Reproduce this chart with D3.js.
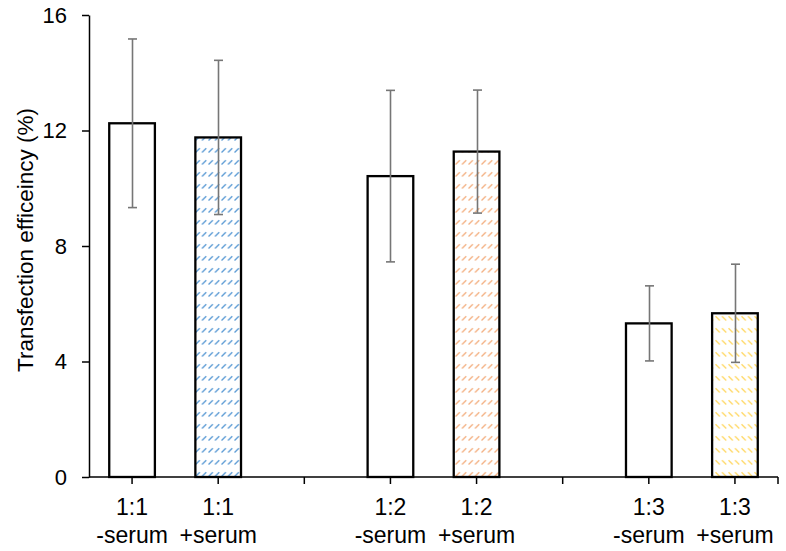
<!DOCTYPE html>
<html>
<head>
<meta charset="utf-8">
<script src="https://cdn.jsdelivr.net/npm/d3@7"></script>
<style>
  html, body { margin: 0; padding: 0; background: #fff; }
  svg { display: block; }
  text { font-family: "Liberation Sans", Arial, sans-serif; fill: #000; }
</style>
</head>
<body>
<script>
// ---- Data ----
const categoryKeys = ["c1", "c2", "g1", "c3", "c4", "g2", "c5", "c6"];
const ratioLabels  = ["1:1", "1:1", "", "1:2", "1:2", "", "1:3", "1:3"];
const serumLabels  = ["-serum", "+serum", "", "-serum", "+serum", "", "-serum", "+serum"];
const values       = [12.25, 11.76, null, 10.42, 11.27, null, 5.32, 5.67];
const errors       = [2.92, 2.67, null, 2.97, 2.13, null, 1.30, 1.70];
const yTicks       = [0, 4, 8, 12, 16];
const yTitle       = "Transfection efficeincy (%)";

// ---- Styles ----
const W = 786, H = 551;
const margin = { left: 89, right: 8, top: 15, bottom: 74 };
const patternStyle = {
  "1:1": { color: "#5B9BD5", dir: "up" },
  "1:2": { color: "#F4B183", dir: "up" },
  "1:3": { color: "#FFD966", dir: "down" }
};

const svg = d3.select("body").append("svg").attr("width", W).attr("height", H);
const defs = svg.append("defs");
Object.entries(patternStyle).forEach(([k, s], i) => {
  const p = defs.append("pattern")
    .attr("id", "pat" + i)
    .attr("patternUnits", "userSpaceOnUse")
    .attr("width", 6.5).attr("height", 12);
  p.append("rect").attr("width", 6.5).attr("height", 12).attr("fill", "#fff");
  const d = s.dir === "up" ? "M0.5,8.5 L4.8,4.2" : "M0.5,4.2 L4.8,8.5";
  p.append("path").attr("d", d).attr("stroke", s.color).attr("stroke-width", 1.3)
    .attr("stroke-linecap", "butt").attr("fill", "none");
  s.id = "pat" + i;
});

const x = d3.scaleBand().domain(categoryKeys).range([margin.left, W - margin.right]).padding(0);
const y = d3.scaleLinear().domain([0, 16]).range([H - margin.bottom, margin.top]);
const y0 = y(0);

// bars
const barW = x.bandwidth() * 0.53;
const barData = categoryKeys.map((k, i) => ({ k, i, v: values[i], e: errors[i], r: ratioLabels[i], s: serumLabels[i] }))
  .filter(d => d.v != null);

svg.append("g").selectAll("rect").data(barData).join("rect")
  .attr("x", d => x(d.k) + x.bandwidth() / 2 - barW / 2)
  .attr("y", d => y(d.v))
  .attr("width", barW)
  .attr("height", d => y0 - y(d.v))
  .attr("fill", d => d.s.startsWith("+") ? `url(#${patternStyle[d.r].id})` : "#fff")
  .attr("stroke", "#000")
  .attr("stroke-width", 2.3);

// error bars
const eg = svg.append("g").attr("stroke", "#767676").attr("stroke-width", 1.6).attr("fill", "none");
barData.forEach(d => {
  const cx = Math.round(x(d.k) + x.bandwidth() / 2) + 0.5;
  const top = y(d.v + d.e), bot = y(d.v - d.e);
  eg.append("line").attr("x1", cx).attr("x2", cx).attr("y1", top).attr("y2", bot);
  eg.append("line").attr("x1", cx - 4.5).attr("x2", cx + 4.5).attr("y1", top).attr("y2", top);
  eg.append("line").attr("x1", cx - 4.5).attr("x2", cx + 4.5).attr("y1", bot).attr("y2", bot);
});

// y axis
const yAxis = svg.append("g").attr("transform", `translate(${margin.left},0)`)
  .call(d3.axisLeft(y).tickValues(yTicks).tickSize(7).tickSizeOuter(0).tickPadding(15));
yAxis.select(".domain").attr("stroke", "#000").attr("stroke-width", 1.5);
yAxis.selectAll(".tick line").attr("stroke", "#000").attr("stroke-width", 1.5);
yAxis.selectAll(".tick text").attr("font-size", 22).attr("font-family", "Liberation Sans, Arial, sans-serif").attr("fill", "#000");

// x axis
const xg = svg.append("g").attr("transform", `translate(0,${y0})`);
xg.append("line").attr("x1", margin.left).attr("x2", W - margin.right).attr("y1", 0).attr("y2", 0)
  .attr("stroke", "#000").attr("stroke-width", 1.5);
const tickXs = categoryKeys.map(k => x(k) + x.bandwidth() / 2).concat([W - margin.right]);
xg.selectAll("line.tk").data(tickXs).join("line").attr("class", "tk")
  .attr("x1", d => d).attr("x2", d => d).attr("y1", 0).attr("y2", 7)
  .attr("stroke", "#000").attr("stroke-width", 1.5);

const lbl = svg.append("g").attr("font-size", 23).attr("text-anchor", "middle");
categoryKeys.forEach((k, i) => {
  const cx = x(k) + x.bandwidth() / 2;
  if (ratioLabels[i]) lbl.append("text").attr("x", cx).attr("y", 515).text(ratioLabels[i]);
  if (serumLabels[i]) lbl.append("text").attr("x", cx).attr("y", 543).text(serumLabels[i]);
});

// y title
svg.append("text")
  .attr("transform", `translate(33,240) rotate(-90)`)
  .attr("text-anchor", "middle")
  .attr("font-size", 22.5)
  .text(yTitle);
</script>
</body>
</html>
